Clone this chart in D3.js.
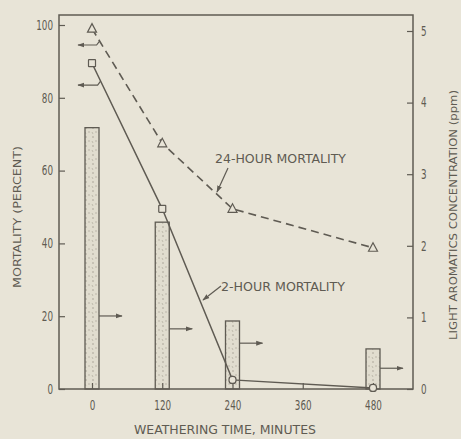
<!DOCTYPE html>
<html>
<head>
<meta charset="utf-8">
<script src="https://cdn.jsdelivr.net/npm/d3@7"></script>
<style>
  html, body { margin: 0; padding: 0; background: #e8e4d7; }
  svg { display: block; }
  text { font-family: "DejaVu Sans", sans-serif; font-stretch: condensed; fill: #5f5b52; }
</style>
</head>
<body>
<svg id="chart" width="461" height="439"></svg>
<script>
// ---- data ----
const times = [0, 120, 240, 480];
const mortality24h = [99, 67.5, 49.5, 38.8];
const mortality2h = [89.5, 49.5, 2.5, 0.3];
const aromatics = [3.65, 2.33, 0.95, 0.56];
const aromaticsArrowLevel = [1.02, 0.84, 0.64, 0.29];
const mortalityArrowLevel = [94.5, 83.5];
const xTicks = [0, 120, 240, 360, 480];
const leftTicks = [0, 20, 40, 60, 80, 100];
const rightTicks = [0, 1, 2, 3, 4, 5];

const ink = "#5f5b53";
const svg = d3.select("#chart");
const L = 59, R = 413, T = 15, B = 389;

const x = d3.scaleLinear().domain([0, 480]).range([92, 373]);
const yL = d3.scaleLinear().domain([0, 100]).range([B, 25]);
const yR = d3.scaleLinear().domain([0, 5]).range([B, 31]);

const defs = svg.append("defs");
const pat = defs.append("pattern").attr("id", "stipple").attr("patternUnits", "userSpaceOnUse")
  .attr("width", 7).attr("height", 9);
pat.append("rect").attr("width", 7).attr("height", 9).attr("fill", "#e1ddcf");
pat.append("circle").attr("cx", 2).attr("cy", 2).attr("r", 0.8).attr("fill", "#a6a194");
pat.append("circle").attr("cx", 5).attr("cy", 6).attr("r", 0.7).attr("fill", "#aca79a");
pat.append("path").attr("d", "M1,6 L2,8").attr("stroke", "#aea99c").attr("stroke-width", 0.7);

function marker(id, w) {
  defs.append("marker").attr("id", id).attr("viewBox", "0 0 10 10").attr("refX", 9).attr("refY", 5)
    .attr("markerWidth", w).attr("markerHeight", w).attr("orient", "auto-start-reverse")
    .attr("markerUnits", "userSpaceOnUse")
    .append("path").attr("d", "M0,1.5 L10,5 L0,8.5 Z").attr("fill", ink);
}
marker("arr", 7);

// bars
const bw = 14;
svg.append("g").selectAll("rect").data(times).join("rect")
  .attr("x", (d) => x(d) - bw / 2).attr("width", bw)
  .attr("y", (d, i) => yR(aromatics[i])).attr("height", (d, i) => B - yR(aromatics[i]))
  .attr("fill", "url(#stipple)").attr("stroke", ink).attr("stroke-width", 1.3);

// bar arrows to right axis
svg.append("g").selectAll("line").data(times).join("line")
  .attr("x1", (d) => x(d) + bw / 2).attr("x2", (d) => x(d) + bw / 2 + 23)
  .attr("y1", (d, i) => yR(aromaticsArrowLevel[i])).attr("y2", (d, i) => yR(aromaticsArrowLevel[i]))
  .attr("stroke", ink).attr("stroke-width", 1.2).attr("marker-end", "url(#arr)");

// frame
svg.append("rect").attr("x", L).attr("y", T).attr("width", R - L).attr("height", B - T)
  .attr("fill", "none").attr("stroke", ink).attr("stroke-width", 1.5);

// axes
const gL = svg.append("g").attr("transform", `translate(${L},0)`)
  .call(d3.axisLeft(yL).tickValues(leftTicks).tickSize(-6).tickPadding(6).tickFormat(d3.format("d")));
const gR = svg.append("g").attr("transform", `translate(${R},0)`)
  .call(d3.axisRight(yR).tickValues(rightTicks).tickSize(-6).tickPadding(8).tickFormat(d3.format("d")));
const gB = svg.append("g").attr("transform", `translate(0,${B})`)
  .call(d3.axisBottom(x).tickValues(xTicks).tickSize(-6).tickPadding(11).tickFormat(d3.format("d")));
[gL, gR, gB].forEach((g) => {
  g.select(".domain").remove();
  g.selectAll(".tick line").attr("stroke", ink).attr("stroke-width", 1.2);
  g.selectAll(".tick text").attr("font-size", "13.5px").style("fill", "#5f5b52")
    .style("font-family", '"DejaVu Sans", sans-serif').style("font-stretch", "condensed")
    .attr("textLength", function () { return this.textContent.length * 5.6; })
    .attr("lengthAdjust", "spacingAndGlyphs");
});

// lines
const pts24 = times.map((t, i) => [x(t), yL(mortality24h[i])]);
const pts2 = times.map((t, i) => [x(t), yL(mortality2h[i])]);
const line = d3.line();
svg.append("path").attr("d", line(pts24)).attr("fill", "none").attr("stroke", ink)
  .attr("stroke-width", 1.6).attr("stroke-dasharray", "8,5");
svg.append("path").attr("d", line(pts2)).attr("fill", "none").attr("stroke", ink)
  .attr("stroke-width", 1.5);

// markers
svg.append("g").selectAll("path").data(pts24).join("path")
  .attr("transform", (d) => `translate(${d[0]},${d[1]})`)
  .attr("d", "M0,-5 L4.5,3.5 L-4.5,3.5 Z")
  .attr("fill", "#e8e4d7").attr("stroke", ink).attr("stroke-width", 1.2);
svg.append("g").selectAll("rect").data(pts2).join("rect")
  .attr("x", (d) => d[0] - 3.5).attr("y", (d) => d[1] - 3.5).attr("width", 7).attr("height", 7)
  .attr("rx", (d, i) => (i >= 2 ? 3 : 0.5))
  .attr("fill", "#e8e4d7").attr("stroke", ink).attr("stroke-width", 1.2);

// arrows to left axis
function lineXAt(pts, yv) {
  const [a, b] = [pts[0], pts[1]];
  return a[0] + (yv - a[1]) / (b[1] - a[1]) * (b[0] - a[0]);
}
[[pts24, mortalityArrowLevel[0]], [pts2, mortalityArrowLevel[1]]].forEach(([pts, lv]) => {
  const yy = yL(lv);
  const xe = lineXAt(pts, yy - 4);
  svg.append("path").attr("d", `M${xe},${yy - 4} L${xe - 3},${yy} L78,${yy}`)
    .attr("fill", "none").attr("stroke", ink).attr("stroke-width", 1.2).attr("marker-end", "url(#arr)");
});

// annotations
svg.append("text").attr("x", 215).attr("y", 163).attr("font-size", "13px")
  .attr("textLength", 131).attr("lengthAdjust", "spacingAndGlyphs").text("24-HOUR MORTALITY");
svg.append("line").attr("x1", 228).attr("y1", 168).attr("x2", 217).attr("y2", 192)
  .attr("stroke", ink).attr("stroke-width", 1.2).attr("marker-end", "url(#arr)");
svg.append("text").attr("x", 221).attr("y", 291).attr("font-size", "13px")
  .attr("textLength", 124).attr("lengthAdjust", "spacingAndGlyphs").text("2-HOUR MORTALITY");
svg.append("line").attr("x1", 221).attr("y1", 286).attr("x2", 203).attr("y2", 300)
  .attr("stroke", ink).attr("stroke-width", 1.2).attr("marker-end", "url(#arr)");

// axis titles
svg.append("text").attr("x", 225).attr("y", 434).attr("text-anchor", "middle").attr("font-size", "12px")
  .attr("textLength", 182).attr("lengthAdjust", "spacingAndGlyphs").text("WEATHERING TIME, MINUTES");
svg.append("text").attr("transform", "translate(21,217) rotate(-90)").attr("text-anchor", "middle")
  .attr("font-size", "11px").attr("textLength", 142).attr("lengthAdjust", "spacingAndGlyphs")
  .text("MORTALITY (PERCENT)");
svg.append("text").attr("transform", "translate(457,215) rotate(-90)").attr("text-anchor", "middle")
  .attr("font-size", "11px").attr("textLength", 250).attr("lengthAdjust", "spacingAndGlyphs")
  .text("LIGHT AROMATICS CONCENTRATION (ppm)");
</script>
</body>
</html>
